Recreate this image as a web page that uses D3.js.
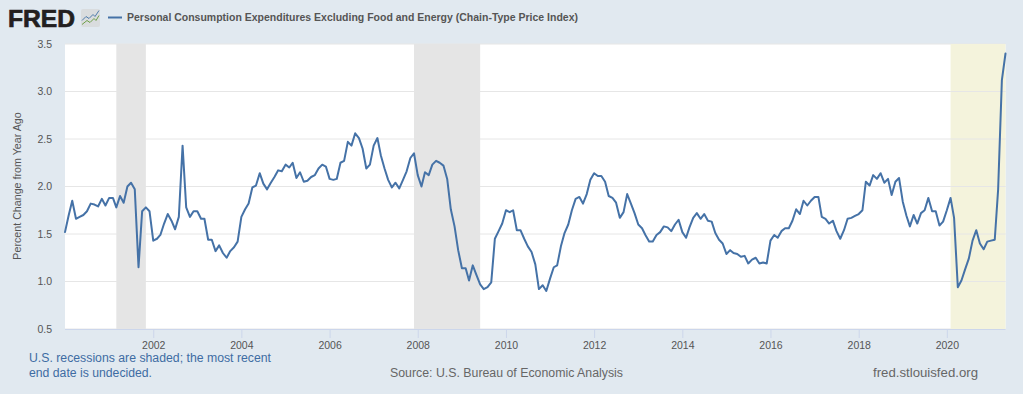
<!DOCTYPE html>
<html>
<head>
<meta charset="utf-8">
<script src="https://cdn.jsdelivr.net/npm/d3@7"></script>
<style>
  html, body { margin: 0; padding: 0; background: #e1e9f0; overflow: hidden; }
  text { font-family: "Liberation Sans", Arial, sans-serif; }
</style>
</head>
<body>
<div id="frame"></div>
<script>
// monthly values, first one is Jan 2000
const pceValues = [
  1.52, 1.70, 1.85, 1.66, 1.68, 1.70, 1.74, 1.82, 1.81, 1.79, 1.87, 1.80,
  1.88, 1.88, 1.78, 1.90, 1.83, 2.00, 2.04, 1.97, 1.15, 1.74, 1.78, 1.74,
  1.43, 1.45, 1.49, 1.61, 1.71, 1.64, 1.55, 1.68, 2.43, 1.78, 1.68, 1.74,
  1.74, 1.66, 1.66, 1.44, 1.44, 1.32, 1.38, 1.30, 1.25, 1.32, 1.36, 1.42,
  1.68, 1.76, 1.82, 1.99, 2.01, 2.14, 2.03, 1.97, 2.04, 2.10, 2.17, 2.16,
  2.23, 2.20, 2.25, 2.09, 2.15, 2.05, 2.06, 2.10, 2.12, 2.19, 2.23, 2.21,
  2.08, 2.07, 2.08, 2.25, 2.27, 2.47, 2.43, 2.56, 2.51, 2.40, 2.19, 2.23,
  2.43, 2.51, 2.33, 2.19, 2.07, 1.99, 2.04, 1.98, 2.07, 2.16, 2.30, 2.35,
  2.12, 2.00, 2.15, 2.12, 2.23, 2.27, 2.25, 2.22, 2.08, 1.76, 1.58, 1.33,
  1.14, 1.14, 1.01, 1.17, 1.07, 0.97, 0.92, 0.94, 0.99, 1.45, 1.53, 1.61,
  1.75, 1.73, 1.75, 1.54, 1.54, 1.45, 1.37, 1.31, 1.18, 0.92, 0.96, 0.90,
  1.03, 1.15, 1.17, 1.37, 1.51, 1.60, 1.75, 1.87, 1.89, 1.82, 1.92, 2.07,
  2.14, 2.11, 2.11, 2.05, 1.90, 1.88, 1.83, 1.67, 1.73, 1.92, 1.82, 1.72,
  1.60, 1.56, 1.49, 1.42, 1.42, 1.49, 1.52, 1.58, 1.57, 1.53, 1.60, 1.65,
  1.52, 1.46, 1.57, 1.67, 1.72, 1.66, 1.71, 1.64, 1.63, 1.51, 1.44, 1.40,
  1.29, 1.33, 1.30, 1.29, 1.26, 1.27, 1.19, 1.23, 1.25, 1.19, 1.20, 1.19,
  1.43, 1.49, 1.46, 1.53, 1.56, 1.56, 1.64, 1.76, 1.71, 1.85, 1.80, 1.85,
  1.89, 1.89, 1.68, 1.66, 1.61, 1.64, 1.53, 1.45, 1.54, 1.66, 1.67, 1.69,
  1.71, 1.75, 2.05, 2.01, 2.12, 2.08, 2.14, 2.04, 2.08, 1.91, 2.05, 2.09,
  1.84, 1.69, 1.58, 1.70, 1.61, 1.72, 1.75, 1.88, 1.74, 1.74, 1.59, 1.63,
  1.75, 1.88, 1.67, 0.94, 1.01, 1.13, 1.24, 1.43, 1.54, 1.40, 1.34, 1.42,
  1.43, 1.44, 1.97, 3.12, 3.40
];
const pceDates = pceValues.map((v, i) => new Date(Date.UTC(2000, i, 1)));

// grey bars are finished recessions, the last one is still open
const recessionStarts = ["2001-03-01", "2007-12-01", "2020-02-01"];
const recessionEnds = ["2001-11-01", "2009-06-01", "2021-05-01"];
const recessionColors = ["#e5e5e5", "#e5e5e5", "#f4f3dc"];

const yTicks = [0.5, 1.0, 1.5, 2.0, 2.5, 3.0, 3.5];
const xTickYears = [2002, 2004, 2006, 2008, 2010, 2012, 2014, 2016, 2018, 2020];

const seriesTitle = "Personal Consumption Expenditures Excluding Food and Energy (Chain-Type Price Index)";
const yTitle = "Percent Change from Year Ago";

// little icon next to the logo
const iconBlue = [[0, 10], [4, 6], [7, 8], [11, 4], [13, 6], [17, 0]];
const iconGreen = [[0, 14], [5, 10], [8, 12], [12, 8], [14, 10], [17, 5]];

const width = 1023,
  height = 394;
const margin = { top: 44, right: 17.5, bottom: 65, left: 65 };

const svg = d3
  .select("#frame")
  .append("svg")
  .attr("width", width)
  .attr("height", height)
  .style("display", "block");

const x = d3
  .scaleUtc()
  .domain([pceDates[0], pceDates[pceDates.length - 1]])
  .range([margin.left, width - margin.right]);

const y = d3
  .scaleLinear()
  .domain([0.5, 3.5])
  .range([height - margin.bottom, margin.top]);

// plot background
svg
  .append("rect")
  .attr("x", margin.left)
  .attr("y", margin.top)
  .attr("width", width - margin.left - margin.right)
  .attr("height", height - margin.top - margin.bottom)
  .attr("fill", "#ffffff");

// gridlines
svg
  .append("g")
  .selectAll("line")
  .data(yTicks)
  .join("line")
  .attr("x1", margin.left)
  .attr("x2", width - margin.right)
  .attr("y1", (d) => y(d))
  .attr("y2", (d) => y(d))
  .attr("stroke", "#e6e6e6")
  .attr("stroke-width", 1);

// recession bands
svg
  .append("g")
  .selectAll("rect")
  .data(recessionStarts)
  .join("rect")
  .attr("x", (d) => x(new Date(d)))
  .attr("y", margin.top)
  .attr("width", (d, i) => x(new Date(recessionEnds[i])) - x(new Date(d)))
  .attr("height", height - margin.top - margin.bottom)
  .attr("fill", (d, i) => recessionColors[i]);

// the yellow band lets the gridlines show through faintly
svg
  .append("g")
  .selectAll("line")
  .data(yTicks.slice(1, -1))
  .join("line")
  .attr("x1", x(new Date(recessionStarts[2])))
  .attr("x2", width - margin.right)
  .attr("y1", (d) => y(d))
  .attr("y2", (d) => y(d))
  .attr("stroke", "#e6e6e6")
  .attr("stroke-width", 1);

// x axis
const xAxis = svg
  .append("g")
  .attr("transform", `translate(0,${height - margin.bottom})`)
  .call(
    d3
      .axisBottom(x)
      .tickValues(xTickYears.map((yr) => new Date(Date.UTC(yr, 0, 1))))
      .tickFormat(d3.utcFormat("%Y"))
      .tickSize(9)
      .tickPadding(4)
  );
xAxis.select(".domain").attr("stroke", "#ccd6eb").attr("d", `M${margin.left},0.5H${width - margin.right}`);
xAxis.selectAll("line").attr("stroke", "#ccd6eb");
xAxis.selectAll("text").attr("fill", "#555555").style("font-size", "10.5px");

// y axis, labels only
const yAxis = svg
  .append("g")
  .attr("transform", `translate(${margin.left},0)`)
  .call(d3.axisLeft(y).tickValues(yTicks).tickFormat(d3.format(".1f")).tickSize(0).tickPadding(13));
yAxis.select(".domain").remove();
yAxis.selectAll("text").attr("fill", "#555555").style("font-size", "10.5px");

svg
  .append("text")
  .attr("transform", "translate(21,186) rotate(-90)")
  .attr("text-anchor", "middle")
  .attr("fill", "#555555")
  .style("font-size", "10.7px")
  .text(yTitle);

// the series
const line = d3
  .line()
  .x((d, i) => x(pceDates[i]))
  .y((d) => y(d));

svg
  .append("path")
  .datum(pceValues)
  .attr("d", line)
  .attr("fill", "none")
  .attr("stroke", "#4572a7")
  .attr("stroke-width", 2)
  .attr("stroke-linejoin", "round")
  .attr("stroke-linecap", "round");

// header: logo, icon, legend
svg
  .append("text")
  .attr("x", 8)
  .attr("y", 27)
  .attr("fill", "#231f20")
  .attr("stroke", "#231f20")
  .attr("stroke-width", 0.7)
  .style("font-size", "24.5px")
  .style("font-weight", "bold")
  .attr("textLength", 67)
  .attr("lengthAdjust", "spacingAndGlyphs")
  .text("FRED");

const icon = svg.append("g").attr("transform", "translate(81,9)");
icon
  .append("rect")
  .attr("width", 19)
  .attr("height", 18)
  .attr("rx", 2)
  .attr("fill", "#d9dcde");
const iconLine = d3.line();
icon
  .append("path")
  .attr("transform", "translate(1,1.5)")
  .attr("d", iconLine(iconBlue))
  .attr("fill", "none")
  .attr("stroke", "#4f7cac")
  .attr("stroke-width", 1);
icon
  .append("path")
  .attr("transform", "translate(1,1.5)")
  .attr("d", iconLine(iconGreen))
  .attr("fill", "none")
  .attr("stroke", "#6fa04a")
  .attr("stroke-width", 1);

svg
  .append("line")
  .attr("x1", 108)
  .attr("x2", 122)
  .attr("y1", 17.5)
  .attr("y2", 17.5)
  .attr("stroke", "#4572a7")
  .attr("stroke-width", 2);

svg
  .append("text")
  .attr("x", 127)
  .attr("y", 21)
  .attr("fill", "#555555")
  .style("font-size", "10.5px")
  .style("font-weight", "bold")
  .attr("textLength", 451)
  .attr("lengthAdjust", "spacingAndGlyphs")
  .text(seriesTitle);

// footer
const footer = [
  { text: "U.S. recessions are shaded; the most recent", x: 29, y: 362, fill: "#3e6ca3", w: 242 },
  { text: "end date is undecided.", x: 29, y: 377, fill: "#3e6ca3", w: 123 },
  { text: "Source: U.S. Bureau of Economic Analysis", x: 390, y: 377, fill: "#666666", w: 233 },
  { text: "fred.stlouisfed.org", x: 873, y: 377, fill: "#666666", w: 105 },
];
svg
  .append("g")
  .selectAll("text")
  .data(footer)
  .join("text")
  .attr("x", (d) => d.x)
  .attr("y", (d) => d.y)
  .attr("fill", (d) => d.fill)
  .attr("textLength", (d) => d.w)
  .attr("lengthAdjust", "spacingAndGlyphs")
  .style("font-size", "12.5px")
  .text((d) => d.text);
</script>
</body>
</html>
